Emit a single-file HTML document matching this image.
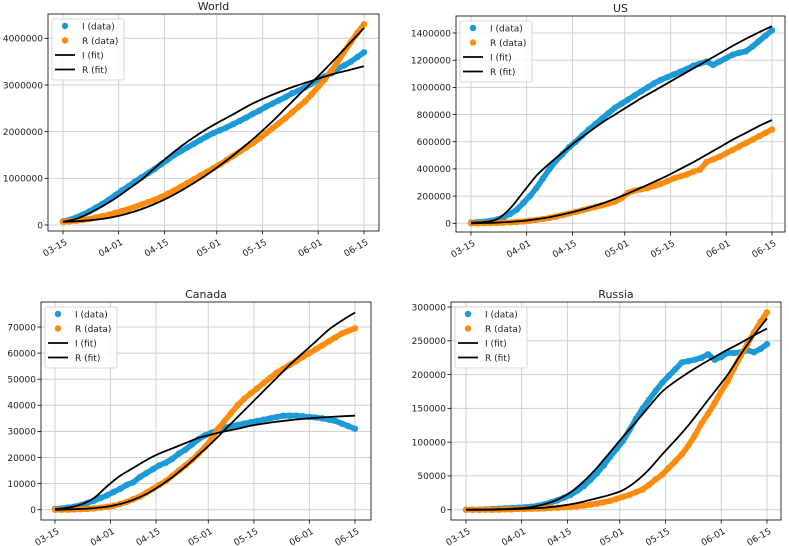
<!DOCTYPE html>
<html><head><meta charset="utf-8"><style>
body{margin:0;background:#fff;}
svg{display:block;font-family:"DejaVu Sans","Liberation Sans",sans-serif;}
</style></head><body>
<svg id="chart" width="789" height="546" viewBox="0 0 789 546"></svg>
<script>
const tickLabels = ["03-15","04-01","04-15","05-01","05-15","06-01","06-15"];
const tickDays = [0,17,31,47,61,78,92];
const legendLabels = ["I (data)","R (data)","I (fit)","R (fit)"];
// data every 2 days (day 0..92), fits every 4 days
const worldI = [0.08,0.11,0.16,0.22,0.29,0.37,0.45,0.54,0.64,0.74,0.83,0.93,1.02,1.11,1.2,1.3,1.4,1.5,1.58,1.66,1.74,1.82,1.9,1.97,2.03,2.09,2.16,2.23,2.3,2.38,2.45,2.53,2.6,2.67,2.74,2.82,2.88,2.95,3.03,3.12,3.18,3.25,3.35,3.42,3.5,3.6,3.7].map(v=>v*1e6);
const worldR = [0.07,0.08,0.09,0.11,0.13,0.16,0.19,0.22,0.26,0.3,0.34,0.39,0.44,0.49,0.54,0.6,0.67,0.74,0.82,0.9,0.98,1.06,1.14,1.22,1.3,1.39,1.48,1.57,1.66,1.75,1.85,1.96,2.07,2.18,2.29,2.41,2.53,2.65,2.8,2.96,3.12,3.3,3.5,3.72,3.92,4.12,4.3].map(v=>v*1e6);
const worldIfit = [0.07,0.13,0.25,0.4,0.57,0.77,0.97,1.22,1.46,1.68,1.88,2.06,2.22,2.37,2.53,2.67,2.79,2.9,3.0,3.09,3.18,3.26,3.33,3.4].map(v=>v*1e6);
const worldRfit = [0.07,0.08,0.1,0.13,0.18,0.25,0.34,0.45,0.58,0.73,0.9,1.08,1.28,1.49,1.72,1.96,2.22,2.5,2.78,3.05,3.33,3.62,3.92,4.22].map(v=>v*1e6);
const usI = [5,8,12,18,28,45,70,100,150,200,260,330,400,460,510,560,600,645,690,730,770,810,850,880,910,940,970,1000,1030,1055,1075,1095,1115,1135,1160,1175,1190,1165,1190,1215,1240,1255,1265,1300,1340,1380,1420].map(v=>v*1e3);
const usR = [0,0,1,2,3,5,7,10,14,19,25,32,40,50,60,72,84,96,108,120,132,145,160,185,225,240,250,260,275,290,310,330,345,360,380,395,450,470,490,515,540,565,590,615,640,665,690].map(v=>v*1e3);
const usIfit = [5,10,30,110,230,350,440,520,600,670,740,800,860,920,975,1030,1085,1140,1195,1250,1305,1357,1405,1450].map(v=>v*1e3);
const usRfit = [0,2,5,10,18,30,45,65,88,115,145,180,220,262,305,350,400,450,505,560,615,665,715,760].map(v=>v*1e3);
const caI = [0.3,0.5,0.8,1.2,1.8,2.6,3.5,4.5,5.5,6.8,8,9.5,10.5,12.5,14,15.5,17,18,19.5,21.5,23,25,27,28.5,29.5,30.5,31.5,32,32.5,33,33.5,34,34.5,35,35.5,36,36,36,35.8,35.5,35.3,35,34.5,34,33,32,31].map(v=>v*1e3);
const caR = [0,0,0,0.1,0.2,0.3,0.5,0.8,1.1,1.5,2.2,3,4,5,6.5,8,9.5,11,13,15,17,19,21.5,24,27,31,34,37,40,42.5,44.5,46.5,48.5,50.5,52.5,54,55.5,57,58.5,60,61.5,63,64.5,66,67.5,68.5,69.5].map(v=>v*1e3);
const caIfit = [0.3,0.8,2,4.5,9,13,16,19,21.5,23.5,25.5,27.5,28.8,30,31,32.2,33,33.7,34.3,34.8,35.2,35.5,35.8,36].map(v=>v*1e3);
const caRfit = [0,0.1,0.3,0.6,1.2,2.2,3.8,6,9,12.5,16.5,21,25.5,30.5,35.5,40.5,45.5,50.5,55.5,60,64.5,69,72.5,75.5].map(v=>v*1e3);
const ruI = [0,0,0,0.5,1,1.5,2,2.5,3,3.5,4.5,6,8,11,14,18,22,28,35,44,54,65,78,90,102,118,135,150,163,176,188,198,208,218,220,222,225,230,222,226,232,232,233,236,233,238,245].map(v=>v*1e3);
const ruR = [0,0,0,0,0,0,0.5,0.5,1,1,1.5,1.5,2,2.5,3,3.5,4,5,6,7.5,9,11,13,16,19,22,26,30,37,45,52,62,72,82,95,110,128,142,158,175,190,210,228,245,262,278,292].map(v=>v*1e3);
const ruIfit = [0,0,0.5,1,2,4,8,15,26,42,62,85,108,130,153,175,190,203,215,226,237,247,258,268].map(v=>v*1e3);
const ruRfit = [0,0,0,0.5,1,2,3,5,8,12,17,22,29,42,60,82,103,125,150,175,200,230,258,283].map(v=>v*1e3);
const worldTicks = [0,1000000,2000000,3000000,4000000];
const usTicks = [0,200000,400000,600000,800000,1000000,1200000,1400000];
const caTicks = [0,10000,20000,30000,40000,50000,60000,70000];
const ruTicks = [0,50000,100000,150000,200000,250000,300000];

const panels = [
 {name:"world",title:"World",L:48,R:379,T:14,B:231,x0:63,x1:364,y0:225,yv:4000000,yp:38.3,ticks:worldTicks,I:worldI,Rd:worldR,If:worldIfit,Rf:worldRfit},
 {name:"us",title:"US",L:456,R:785,T:16,B:232,x0:471,x1:772,y0:223.3,yv:1400000,yp:33,ticks:usTicks,I:usI,Rd:usR,If:usIfit,Rf:usRfit},
 {name:"canada",title:"Canada",L:41,R:371,T:302,B:520,x0:55,x1:355,y0:509.7,yv:70000,yp:327,ticks:caTicks,I:caI,Rd:caR,If:caIfit,Rf:caRfit},
 {name:"russia",title:"Russia",L:451,R:781,T:302,B:520,x0:466,x1:767,y0:509.7,yv:300000,yp:307,ticks:ruTicks,I:ruI,Rd:ruR,If:ruIfit,Rf:ruRfit}
];
const NS="http://www.w3.org/2000/svg";
const svg=document.getElementById('chart');
function mk(tag,attrs,parent){const e=document.createElementNS(NS,tag);for(const k in attrs)e.setAttribute(k,attrs[k]);parent.appendChild(e);return e;}
function smooth(pts){
 let d='M'+pts[0][0].toFixed(1)+','+pts[0][1].toFixed(1);
 for(let i=0;i<pts.length-1;i++){
  const p0=pts[Math.max(i-1,0)],p1=pts[i],p2=pts[i+1],p3=pts[Math.min(i+2,pts.length-1)];
  const c1=[p1[0]+(p2[0]-p0[0])/6,p1[1]+(p2[1]-p0[1])/6];
  const c2=[p2[0]-(p3[0]-p1[0])/6,p2[1]-(p3[1]-p1[1])/6];
  d+=` C${c1[0].toFixed(1)},${c1[1].toFixed(1)} ${c2[0].toFixed(1)},${c2[1].toFixed(1)} ${p2[0].toFixed(1)},${p2[1].toFixed(1)}`;
 }
 return d;
}
const BLUE="#1a9ad6", ORANGE="#fd8c0c";
panels.forEach(p=>{
 const g=mk('g',{},svg);
 
 
 const xs=d=>p.x0+(p.x1-p.x0)*d/92;
 const ys=v=>p.y0-(p.y0-p.yp)*v/p.yv;
 const cid='clip-'+p.name;
 const cp=mk('clipPath',{id:cid},g);mk('rect',{x:p.L,y:p.T,width:p.R-p.L,height:p.B-p.T},cp);
 tickDays.forEach((d,i)=>{
  const gl=mk('line',{x1:xs(d),x2:xs(d),y1:p.T,y2:p.B,stroke:'#d0d0d0','stroke-width':1},g);
  
  
  mk('line',{x1:xs(d),x2:xs(d),y1:p.B,y2:p.B+3.5,stroke:'#000','stroke-width':0.8},g);
  const t=mk('text',{x:xs(d)+2,y:p.B+8,'font-size':9,fill:'#222','text-anchor':'end',transform:`rotate(-30 ${xs(d)+2} ${p.B+8})`,'dominant-baseline':'hanging'},g);
  t.textContent=tickLabels[i];
  
  
 });
 p.ticks.forEach(v=>{
  const y=ys(v);
  const gl=mk('line',{x1:p.L,x2:p.R,y1:y,y2:y,stroke:'#d0d0d0','stroke-width':1},g);
  
  
  mk('line',{x1:p.L-3.5,x2:p.L,y1:y,y2:y,stroke:'#000','stroke-width':0.8},g);
  const t=mk('text',{x:p.L-5,y:y+3.3,'font-size':9,fill:'#222','text-anchor':'end'},g);
  t.textContent=String(v);
  
  
 });
 const dg=mk('g',{'clip-path':`url(#${cid})`},g);
 [[p.I,BLUE,'i-data'],[p.Rd,ORANGE,'r-data']].forEach(([arr,col,nm])=>{
  const band=mk('polyline',{points:arr.map((v,i)=>xs(i*2).toFixed(1)+','+ys(v).toFixed(1)).join(' '),fill:'none',stroke:col,'stroke-width':5.6,'stroke-linejoin':'round','stroke-linecap':'round'},dg);
  
  
  arr.forEach((v,i)=>{
   const c=mk('circle',{cx:xs(i*2),cy:ys(v),r:3.2,fill:col},dg);
   
   
  });
 });
 [[p.If,'i-fit-line'],[p.Rf,'r-fit-line']].forEach(([arr,nm])=>{
  const pts=arr.map((v,i)=>[xs(i*4),ys(v)]);
  const l=mk('path',{d:smooth(pts),fill:'none',stroke:'#000','stroke-width':1.8,'stroke-linejoin':'round'},dg);
  
  
 });
 const fr=mk('rect',{x:p.L,y:p.T,width:p.R-p.L,height:p.B-p.T,fill:'none',stroke:'#000','stroke-width':0.8},g);
 
 
 const tt=mk('text',{x:(p.L+p.R)/2,y:p.T-4,'font-size':11,fill:'#222','text-anchor':'middle'},g);
 tt.textContent=p.title;
 
 
 const lg=mk('g',{},g);
 
 
 const lx=p.L+4, ly=p.T+5;
 mk('rect',{x:lx,y:ly,width:72,height:61,rx:2,fill:'#fff','fill-opacity':0.85,stroke:'#ccc','stroke-width':0.8},lg);
 legendLabels.forEach((lab,i)=>{
  const yy=ly+7+i*14.5;
  if(i<2){mk('circle',{cx:lx+13,cy:yy,r:3.2,fill:i==0?BLUE:ORANGE},lg);}
  else{mk('line',{x1:lx+3,x2:lx+23,y1:yy,y2:yy,stroke:'#000','stroke-width':1.8},lg);}
  const t=mk('text',{x:lx+30,y:yy+3.3,'font-size':9,fill:'#222'},lg);
  t.textContent=lab;
  
  
 });
});
</script>
</body></html>
